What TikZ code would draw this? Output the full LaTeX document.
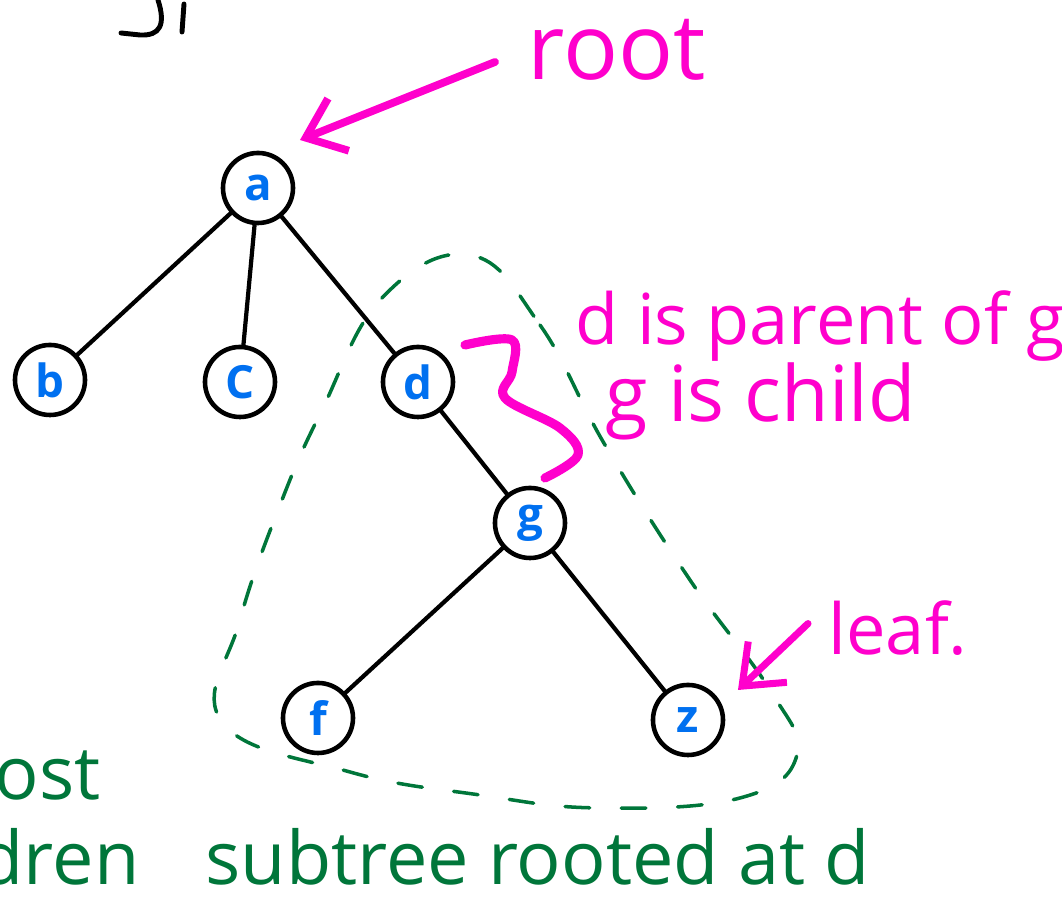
\documentclass[tikz,border=0pt]{standalone}
\usepackage{fontspec}
\setmainfont{Open Sans}
\usetikzlibrary{arrows.meta}
\definecolor{inkpink}{RGB}{255,0,204}
\definecolor{inkgreen}{RGB}{0,118,58}
\definecolor{inkblue}{RGB}{0,112,240}

\begin{document}
\begin{tikzpicture}[
    x=0.01cm, y=-0.01cm,
    vertex/.style={circle,draw=black,line width=1.3pt,fill=white,minimum size=0.7cm,inner sep=0pt,text=inkblue,font=\fontsize{13}{13}\selectfont\bfseries},
    edge/.style={draw,line width=1.2pt,line cap=round},
    pen/.style={line width=2pt,line cap=round,line join=round,inkpink},
    note/.style={text=inkpink,inner sep=0pt,anchor=base west,font=\fontsize{20}{20}\selectfont},
    big note/.style={note,font=\fontsize{26}{26}\selectfont},
    green note/.style={note,text=inkgreen,font=\fontsize{21}{21}\selectfont},
    subtree/.style={draw=inkgreen,line width=1pt,dash pattern=on 7pt off 9pt,line cap=round},
    pointer/.style={pen,-{Straight Barb[length=10pt,width=16pt]}}
  ]
  \useasboundingbox (0,0) rectangle (1062,901);
  \clip (0,0) rectangle (1062,901);
  % leftovers of the writing above and to the left
  \draw[line width=1.4pt,line cap=round] (158,0) .. controls (166,25) and (160,36) .. (140,35) -- (121,33);
  \draw[line width=1.4pt,line cap=round] (184,4) -- (182,32);
  \node[green note] (ostlbl) at (-6,800) {ost};
  \node[green note] (drenlbl) at (-22,885) {dren};
  % the subtree outline
  \draw[subtree] plot[smooth cycle,tension=0.7] coordinates {
      (470,255) (540,325) (605,445) (690,580) (770,690) (797,755)
      (740,798) (600,808) (480,795) (350,772) (222,722) (240,620)
      (282,500) (322,410) (382,298)};
  % the vertices
  \foreach \pos/\name/\lbl in {
          {(258,188)/a/a},
          {(50,380)/b/b},
          {(240,382)/c/C},
          {(418,382)/d/d},
          {(530,523)/g/g},
          {(318,718)/f/f},
          {(688,720)/z/z}}
      \node[vertex] (\name) at \pos {\lbl};
  % edges of the tree
  \foreach \source/\dest in {a/b, a/c, a/d, d/g, g/f, g/z}
      \path[edge] (\source) -- (\dest);
  % notes
  \node[big note] (rootlbl) at (527,80) {root};
  \coordinate (roottip) at (300,140);
  \draw[pointer,line width=2.2pt] (495,62) -- (roottip);
  \node[note] (parentlbl) at (575,345) {d is parent of g};
  \node[note,font=\fontsize{22}{22}\selectfont] (childlbl) at (605,422) {g is child};
  \draw[pen,line width=2.6pt] plot[smooth,tension=0.6] coordinates {
      (465,345) (512,340) (512,372) (505,398) (560,428) (578,455) (545,478)};
  \node[note] (leaflbl) at (828,655) {leaf.};
  \coordinate (leaftip) at (738,690);
  \draw[pointer] (leaflbl.west) ++(-20,-5) -- (leaftip);
  \node[green note] (subtreelbl) at (205,885) {subtree rooted at d};
\end{tikzpicture}
\end{document}
